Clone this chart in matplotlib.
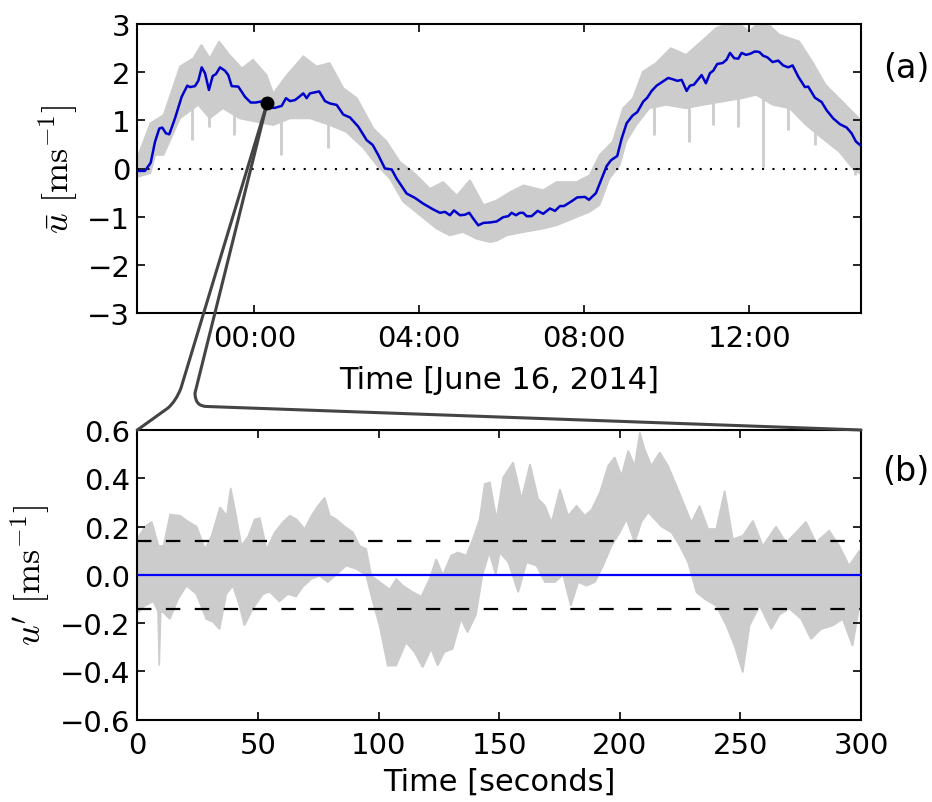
import numpy as np
import matplotlib
matplotlib.use("Agg")
import matplotlib.pyplot as plt
from matplotlib.path import Path
from matplotlib.patches import PathPatch
from matplotlib.lines import Line2D

plt.rcParams['font.family'] = ['DejaVu Sans']
plt.rcParams['mathtext.fontset'] = 'cm'

# ---------------- data: panel (a) ----------------
# mean velocity (blue), time in hours relative to 00:00 June 16, 2014
mean_t = [-2.812, -2.650, -2.511, -2.408, -2.303, -2.231, -2.141, -2.061, -1.923, -1.760,
          -1.624, -1.559, -1.438, -1.357, -1.275, -1.195, -1.099, -1.008, -0.929, -0.831,
          -0.710, -0.630, -0.548, -0.388, -0.226, -0.088, 0.041, 0.155, 0.259, 0.339,
          0.502, 0.664, 0.769, 0.865, 0.987, 1.091, 1.188, 1.271, 1.350, 1.575,
          1.714, 1.835, 1.998, 2.158, 2.320, 2.521, 2.724, 2.870, 3.006, 3.168,
          3.331, 3.452, 3.694, 3.895, 4.097, 4.339, 4.502, 4.623, 4.745, 4.841,
          4.987, 5.108, 5.212, 5.309, 5.431, 5.551, 5.714, 5.876, 6.036, 6.158,
          6.239, 6.344, 6.441, 6.521, 6.604, 6.724, 6.870, 7.006, 7.168, 7.290,
          7.411, 7.508, 7.694, 7.830, 8.017, 8.114, 8.284, 8.422, 8.543, 8.647,
          8.800, 8.906, 9.028, 9.173, 9.285, 9.431, 9.528, 9.634, 9.755, 9.877,
          10.036, 10.157, 10.255, 10.362, 10.482, 10.563, 10.659, 10.846, 10.950, 11.048,
          11.127, 11.224, 11.355, 11.452, 11.533, 11.636, 11.734, 11.816, 11.920, 12.017,
          12.138, 12.243, 12.339, 12.436, 12.567, 12.703, 12.824, 12.946, 13.052, 13.187,
          13.350, 13.430, 13.593, 13.755, 13.876, 14.036, 14.199, 14.362, 14.482, 14.587,
          14.683]
mean_u = [-0.05, -0.05, 0.12, 0.55, 0.83, 0.85, 0.73, 0.71, 1.04, 1.49,
          1.72, 1.69, 1.71, 1.82, 2.10, 1.98, 1.63, 1.92, 1.96, 2.10,
          2.03, 1.94, 1.71, 1.70, 1.49, 1.37, 1.37, 1.39, 1.32, 1.26,
          1.26, 1.30, 1.46, 1.40, 1.42, 1.49, 1.56, 1.46, 1.56, 1.60,
          1.40, 1.35, 1.32, 1.12, 1.06, 0.87, 0.59, 0.49, 0.28, 0.00,
          -0.02, -0.21, -0.52, -0.61, -0.73, -0.85, -0.92, -0.90, -0.97, -0.87,
          -0.97, -0.96, -0.92, -1.04, -1.18, -1.13, -1.12, -1.10, -1.01, -0.99,
          -0.92, -0.97, -0.92, -0.92, -0.99, -0.99, -0.88, -0.94, -0.83, -0.88,
          -0.78, -0.78, -0.68, -0.60, -0.59, -0.65, -0.51, -0.21, 0.05, 0.17,
          0.26, 0.62, 0.94, 1.10, 1.17, 1.39, 1.47, 1.61, 1.72, 1.79,
          1.88, 1.85, 1.82, 1.84, 1.61, 1.72, 1.74, 1.94, 1.77, 1.98,
          2.03, 2.17, 2.19, 2.26, 2.40, 2.29, 2.28, 2.40, 2.36, 2.38,
          2.43, 2.42, 2.34, 2.31, 2.21, 2.24, 2.14, 2.10, 2.14, 1.91,
          1.69, 1.70, 1.47, 1.38, 1.21, 1.04, 0.92, 0.85, 0.73, 0.56,
          0.49]

# raw velocity band (grey): upper and lower envelope
raw_up_t = [-2.81, -2.52, -2.20, -1.80, -1.48, -1.28, -1.08, -0.85, -0.60, -0.30,
            -0.03, 0.30, 0.46, 0.79, 1.19, 1.51, 1.83, 2.16, 2.49, 2.89,
            3.21, 3.53, 3.85, 4.26, 4.58, 4.91, 5.23, 5.56, 5.88, 6.20,
            6.53, 7.00, 7.33, 7.81, 8.13, 8.37, 8.69, 8.94, 9.18, 9.42,
            9.74, 10.10, 10.47, 10.88, 11.20, 11.68, 12.00, 12.33, 12.73, 13.21,
            13.53, 13.85, 14.26, 14.66, 14.71]
raw_up_u = [0.28, 0.94, 1.11, 2.12, 2.29, 2.57, 2.29, 2.64, 2.36, 2.08,
            2.26, 1.94, 1.56, 1.94, 2.33, 2.12, 2.19, 1.67, 1.46, 0.83,
            0.56, 0.14, -0.07, -0.42, -0.28, -0.56, -0.24, -0.76, -0.66, -0.49,
            -0.35, -0.45, -0.28, -0.28, -0.14, 0.28, 0.56, 1.25, 1.46, 2.01,
            2.19, 2.50, 2.36, 2.67, 2.92, 3.05, 2.85, 3.10, 2.78, 2.64,
            2.22, 1.74, 1.39, 1.04, 0.95]
raw_lo_t = [-2.81, -2.52, -2.40, -2.20, -1.80, -1.36, -1.08, -0.76, -0.36, 0.05,
            0.46, 0.87, 1.35, 1.83, 2.23, 2.65, 2.97, 3.29, 3.61, 4.02,
            4.42, 4.74, 5.06, 5.39, 5.72, 5.88, 6.12, 6.53, 7.00, 7.33,
            7.73, 8.13, 8.37, 8.61, 8.86, 9.02, 9.26, 9.58, 9.99, 10.47,
            10.88, 11.36, 11.84, 12.17, 12.57, 12.98, 13.38, 13.78, 14.18, 14.58,
            14.71]
raw_lo_u = [-0.17, -0.10, 0.28, 0.28, 1.04, 1.32, 1.04, 1.25, 1.04, 0.97,
            0.90, 1.04, 1.04, 0.90, 0.76, 0.42, 0.07, -0.21, -0.69, -0.97,
            -1.25, -1.39, -1.32, -1.46, -1.53, -1.50, -1.39, -1.32, -1.25, -1.18,
            -1.04, -0.90, -0.76, -0.21, 0.07, 0.56, 0.90, 1.25, 1.32, 1.25,
            1.32, 1.39, 1.46, 1.53, 1.32, 1.25, 0.90, 0.62, 0.35, -0.07,
            -0.10]
# isolated downward spikes of the raw record
spike_t = [-1.52, -1.09, -0.50, 0.66, 1.79, 9.70, 10.53, 11.11, 11.73, 12.34, 12.95, 13.60, 14.56]
spike_lo = [0.59, 0.87, 0.69, 0.28, 0.42, 0.69, 0.56, 0.90, 0.87, 0.03, 0.80, 0.49, -0.14]
spike_hi = [1.5, 1.4, 1.6, 1.1, 1.2, 1.6, 1.6, 1.6, 1.7, 3.0, 1.6, 1.2, 0.4]

zoom_t = 0.31     # highlighted 5-minute window
zoom_u = 1.35

# ---------------- data: panel (b) ----------------
fl_up_s = [0.4, 3.2, 6.0, 8.8, 10.9, 13.6, 17.7, 21.2, 24.6, 28.1,
           30.8, 34.3, 37.1, 38.7, 40.5, 43.2, 46.0, 48.7, 50.8, 53.6,
           57.0, 60.5, 63.2, 66.0, 69.4, 72.2, 74.9, 77.7, 79.8, 82.5,
           86.0, 89.4, 92.2, 94.9, 97.0, 100.5, 104.6, 107.4, 110.1, 114.3,
           117.7, 121.2, 123.9, 126.7, 130.1, 132.9, 136.4, 139.1, 141.9, 144.0,
           146.2, 148.9, 151.7, 155.8, 159.3, 162.8, 166.2, 169.0, 171.7, 175.2,
           178.6, 182.1, 185.5, 188.3, 191.8, 195.2, 197.9, 200.7, 203.5, 206.2,
           208.3, 210.3, 213.1, 216.6, 220.0, 223.5, 226.9, 229.7, 233.1, 236.6,
           240.0, 243.5, 246.9, 251.0, 255.2, 259.3, 264.8, 268.9, 273.1, 277.2,
           281.3, 286.8, 291.0, 295.1, 299.3]
fl_up_u = [0.155, 0.20, 0.22, 0.12, 0.12, 0.25, 0.245, 0.22, 0.20, 0.107,
           0.162, 0.28, 0.245, 0.36, 0.27, 0.12, 0.16, 0.23, 0.235, 0.107,
           0.176, 0.22, 0.245, 0.23, 0.19, 0.245, 0.286, 0.32, 0.245, 0.23,
           0.20, 0.176, 0.12, 0.107, -0.004, -0.03, -0.06, -0.017, -0.045, -0.072,
           -0.09, -0.017, 0.065, 0.0, 0.08, 0.093, 0.08, 0.148, 0.23, 0.376,
           0.383, 0.23, 0.404, 0.466, 0.314, 0.459, 0.314, 0.286, 0.217, 0.355,
           0.245, 0.286, 0.245, 0.27, 0.342, 0.452, 0.487, 0.41, 0.514, 0.452,
           0.59, 0.521, 0.452, 0.507, 0.452, 0.369, 0.286, 0.217, 0.286, 0.19,
           0.19, 0.348, 0.148, 0.162, 0.224, 0.12, 0.20, 0.134, 0.176, 0.22,
           0.134, 0.183, 0.12, 0.038, 0.10]
fl_lo_s = [0.4, 3.2, 6.6, 8.6, 9.1, 9.7, 10.7, 13.5, 16.9, 20.4,
           24.5, 28.6, 31.4, 34.1, 36.9, 39.6, 42.4, 44.4, 47.9, 52.1,
           54.8, 58.9, 62.4, 65.8, 68.6, 72.1, 75.5, 79.0, 82.4, 86.6,
           90.7, 94.8, 97.6, 100.4, 103.8, 107.3, 111.4, 114.9, 118.3, 121.8,
           124.5, 127.3, 130.7, 134.2, 136.9, 140.4, 143.1, 145.9, 148.6, 150.3,
           153.8, 157.9, 161.4, 165.5, 169.0, 173.1, 176.5, 179.7, 182.8, 186.2,
           189.7, 193.1, 196.6, 200.0, 202.8, 206.2, 209.0, 211.8, 214.5, 217.3,
           221.4, 224.9, 228.3, 231.8, 235.2, 240.0, 244.2, 247.6, 251.0, 253.8,
           258.0, 262.8, 266.2, 270.3, 275.2, 279.3, 283.4, 288.3, 292.4, 296.5,
           299.3]
fl_lo_u = [-0.155, -0.128, -0.11, -0.15, -0.376, -0.15, -0.155, -0.183, -0.10, -0.045,
           -0.08, -0.183, -0.195, -0.225, -0.08, -0.045, -0.128, -0.21, -0.14, -0.08,
           -0.07, -0.11, -0.08, -0.09, -0.05, -0.017, -0.004, -0.03, 0.0, 0.038,
           0.025, 0.0, -0.11, -0.21, -0.376, -0.376, -0.28, -0.32, -0.383, -0.307,
           -0.376, -0.32, -0.307, -0.183, -0.238, -0.165, 0.0, 0.093, 0.0, 0.093,
           0.052, -0.072, 0.052, 0.038, -0.03, -0.03, 0.0, -0.128, -0.03, -0.045,
           -0.03, 0.038, 0.12, 0.176, 0.23, 0.134, 0.22, 0.259, 0.23, 0.20,
           0.176, 0.12, 0.052, -0.072, -0.10, -0.128, -0.21, -0.294, -0.404, -0.21,
           -0.128, -0.225, -0.165, -0.14, -0.183, -0.266, -0.225, -0.21, -0.183, -0.294,
           -0.128]
std_level = 0.14

top_ticks = [0, 4, 8, 12]
top_ticklabels = ['00:00', '04:00', '08:00', '12:00']
top_yticks = [-3, -2, -1, 0, 1, 2, 3]
bot_xticks = [0, 50, 100, 150, 200, 250, 300]
bot_yticks = [-0.6, -0.4, -0.2, 0.0, 0.2, 0.4, 0.6]

# ---------------- figure ----------------
W, H = 932, 803
fig = plt.figure(figsize=(W / 100, H / 100), dpi=100)
ax1 = fig.add_axes([137.3 / W, 1 - 314 / H, (861 - 137.3) / W, (314 - 25) / H])
ax2 = fig.add_axes([137.3 / W, 1 - 720.7 / H, (861 - 137.3) / W, (720.7 - 431) / H])

GREY = '#cccccc'
TFS = 21   # tick labels
LFS = 22   # axis labels

# panel (a)
ax1.fill(list(raw_up_t) + list(raw_lo_t)[::-1], list(raw_up_u) + list(raw_lo_u)[::-1],
         color=GREY, lw=1.2, ec=GREY, zorder=1)
ax1.vlines(spike_t, spike_lo, spike_hi, color=GREY, lw=2.0, zorder=1)
ax1.axhline(0, color='k', ls=(0, (1, 4)), lw=1.5, zorder=2)
ax1.plot(mean_t, mean_u, color='#0000cc', lw=1.8, zorder=3)
ax1.set_xlim(-2.836, 14.71)
ax1.set_ylim(-3, 3)
ax1.set_xticks(top_ticks)
ax1.set_xticklabels(top_ticklabels)
ax1.set_yticks(top_yticks)
ax1.set_xlabel('Time [June 16, 2014]', fontsize=LFS, labelpad=9)
ax1.set_ylabel(r'$\bar{u}\ [\mathrm{ms}^{-1}]$', fontsize=26)
ax1.yaxis.set_label_coords(-0.078, 0.5)

# panel (b)
ax2.fill(list(fl_up_s) + list(fl_lo_s)[::-1], list(fl_up_u) + list(fl_lo_u)[::-1],
         color=GREY, lw=1.2, ec=GREY, zorder=1)
ax2.axhline(0, color='#0000ff', lw=1.6, zorder=3)
ax2.axhline(std_level, color='k', ls=(0, (6.5, 6.5)), lw=1.6, zorder=2)
ax2.axhline(-std_level, color='k', ls=(0, (6.5, 6.5)), lw=1.6, zorder=2)
ax2.set_xlim(0, 300)
ax2.set_ylim(-0.6, 0.6)
ax2.set_xticks(bot_xticks)
ax2.set_yticks(bot_yticks)
ax2.set_xlabel('Time [seconds]', fontsize=LFS, labelpad=6)
ax2.set_ylabel(r"$u'\ [\mathrm{ms}^{-1}]$", fontsize=26)
ax2.yaxis.set_label_coords(-0.117, 0.5)

for ax in (ax1, ax2):
    ax.tick_params(direction='in', top=True, right=True, length=6, width=1.2,
                   labelsize=TFS)
    ax.tick_params(axis='x', pad=8)
    ax.tick_params(axis='y', pad=5)
    for sp in ax.spines.values():
        sp.set_linewidth(1.5)

fig.text(906 / W, 1 - 69 / H, '(a)', fontsize=24, ha='center', va='center')
fig.text(906 / W, 1 - 472 / H, '(b)', fontsize=24, ha='center', va='center')

# zoom connectors
inv = fig.transFigure.inverted()
p_dot = inv.transform(ax1.transData.transform((zoom_t, zoom_u)))
bl = inv.transform(ax2.transAxes.transform((0, 1)))
br = inv.transform(ax2.transAxes.transform((1, 1)))


def px(x, y):
    return (x / W, 1 - y / H)


left_path = Path([tuple(p_dot), px(181, 389), px(176, 402), px(168, 409), tuple(bl)],
                 [Path.MOVETO, Path.LINETO, Path.CURVE3, Path.CURVE3, Path.LINETO])
right_path = Path([tuple(p_dot), px(195, 394), px(195, 407.5), px(207, 407.5), tuple(br)],
                  [Path.MOVETO, Path.LINETO, Path.CURVE3, Path.CURVE3, Path.LINETO])
for pth in (left_path, right_path):
    fig.add_artist(PathPatch(pth, fill=False, ec='#444444', lw=2.2,
                             transform=fig.transFigure, zorder=5,
                             capstyle='round', joinstyle='round'))
fig.add_artist(Line2D([p_dot[0]], [p_dot[1]], marker='o', ms=9, color='k',
                      transform=fig.transFigure, zorder=6))

fig.savefig('out.png', dpi=100)
